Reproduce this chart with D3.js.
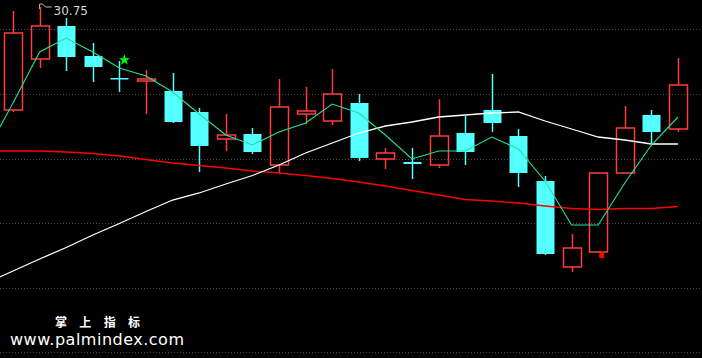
<!DOCTYPE html>
<html lang="zh">
<head>
<meta charset="UTF-8">
<title>K线</title>
<script src="https://d3js.org/d3.v7.min.js"></script>
<style>
  html, body { margin: 0; padding: 0; background: #000; }
  svg { display: block; }
</style>
</head>
<body>
<script>
// 日K数据 (开, 收, 高, 低)
var opens  = [28.69, 29.71, 30.37, 29.77, 29.33, 29.27, 29.07, 28.65, 28.11, 28.21, 27.59, 28.61, 28.47,
              28.83, 27.71, 27.65, 27.59, 28.23, 28.69, 28.17, 27.27, 25.55, 25.85, 27.43, 28.59, 28.31];
var closes = [30.23, 30.37, 29.75, 29.55, 29.33, 29.31, 28.45, 27.97, 28.19, 27.85, 28.75, 28.67, 29.01,
              27.73, 27.83, 27.61, 28.17, 27.85, 28.43, 27.43, 25.81, 25.93, 27.43, 28.33, 28.25, 29.19];
var highs  = [30.67, 30.75, 30.53, 30.03, 29.67, 29.49, 29.43, 28.73, 28.61, 28.33, 29.31, 29.15, 29.51,
              29.01, 27.93, 27.93, 28.91, 28.57, 29.41, 28.31, 27.37, 26.21, 27.43, 28.77, 28.69, 29.73];
var lows   = [28.65, 29.53, 29.47, 29.25, 29.05, 28.61, 28.43, 27.45, 27.87, 27.81, 27.43, 28.41, 28.39,
              27.67, 27.51, 27.31, 27.53, 27.59, 28.25, 27.15, 25.79, 25.45, 25.83, 27.43, 28.03, 28.25];

// 均线, 第一个值属于画面左侧之外的前一天
var ma1 = [27.85, 28.83, 29.85, 30.13, 29.85, 29.53, 29.37, 29.05, 28.61, 28.19, 27.99, 28.25, 28.43, 28.81,
           28.63, 28.19, 27.71, 27.87, 27.87, 28.15, 27.91, 27.27, 26.39, 26.39, 27.23, 27.99, 28.55];
var ma2 = [25.23, 25.47, 25.71, 25.94, 26.19, 26.42, 26.66, 26.89, 27.03, 27.21, 27.38, 27.59, 27.83, 28.03,
           28.23, 28.37, 28.45, 28.55, 28.59, 28.63, 28.65, 28.47, 28.31, 28.15, 28.09, 28.01, 28.01];
var ma3 = [27.87, 27.87, 27.87, 27.85, 27.82, 27.77, 27.70, 27.63, 27.58, 27.53, 27.47, 27.43, 27.38, 27.32,
           27.25, 27.17, 27.08, 26.99, 26.90, 26.87, 26.83, 26.77, 26.72, 26.70, 26.72, 26.72, 26.76];

var gridPrices = [30.30, 29.01, 27.72, 26.43, 25.14, 23.85];
var maxLabel = "30.75";
var starIndex = 4, starPrice = 29.69;
var squareIndex = 22, squarePrice = 25.79;

var width = 702, height = 358;

var candles = opens.map(function (o, i) {
    return { i: i, o: o, c: closes[i], h: highs[i], l: lows[i] };
});

var svg = d3.select("body").append("svg")
    .attr("width", width)
    .attr("height", height)
    .style("background", "#000");

var x = d3.scaleLinear().domain([0, 25]).range([13, 678]);
var y = d3.scaleLinear().domain([23.73, 30.89]).range([358, 0]);
var bw = 18;

svg.append("clipPath").attr("id", "clip")
    .append("rect").attr("x", 0).attr("y", 0).attr("width", width).attr("height", height);

// 网格虚线
svg.append("g").selectAll("line")
    .data(gridPrices)
    .enter().append("line")
    .attr("x1", 0).attr("x2", width)
    .attr("y1", function (d) { return Math.round(y(d)) + 0.5; })
    .attr("y2", function (d) { return Math.round(y(d)) + 0.5; })
    .attr("stroke", "#4a4a4a")
    .attr("stroke-dasharray", "1,2");

var up = "#ff3c3c", down = "#54ffff";

var gc = svg.append("g");

// 影线
gc.selectAll("line.hi")
    .data(candles)
    .enter().append("line")
    .attr("class", "hi")
    .attr("x1", function (d) { return Math.round(x(d.i)) + 0.5; })
    .attr("x2", function (d) { return Math.round(x(d.i)) + 0.5; })
    .attr("y1", function (d) { return y(d.h); })
    .attr("y2", function (d) { return y(Math.max(d.o, d.c)); })
    .attr("stroke", function (d) { return d.c > d.o ? up : down; })
    .attr("stroke-width", 1.5);

gc.selectAll("line.lo")
    .data(candles)
    .enter().append("line")
    .attr("class", "lo")
    .attr("x1", function (d) { return Math.round(x(d.i)) + 0.5; })
    .attr("x2", function (d) { return Math.round(x(d.i)) + 0.5; })
    .attr("y1", function (d) { return y(Math.min(d.o, d.c)); })
    .attr("y2", function (d) { return y(d.l); })
    .attr("stroke", function (d) { return d.c > d.o ? up : down; })
    .attr("stroke-width", 1.5);

// 实体
gc.selectAll("rect")
    .data(candles)
    .enter().append("rect")
    .attr("x", function (d) { return Math.round(x(d.i)) - bw / 2 + 0.5; })
    .attr("y", function (d) { return y(Math.max(d.o, d.c)); })
    .attr("width", bw)
    .attr("height", function (d) { return Math.max(1.5, Math.abs(y(d.o) - y(d.c))); })
    .attr("fill", function (d) { return d.c > d.o ? "none" : down; })
    .attr("stroke", function (d) { return d.c > d.o ? up : "none"; })
    .attr("stroke-width", 1.5);

// 均线
var line = d3.line()
    .x(function (d, i) { return x(i - 1); })
    .y(function (d) { return y(d); });

var gl = svg.append("g").attr("clip-path", "url(#clip)");
gl.append("path").datum(ma3)
    .attr("d", line).attr("fill", "none")
    .attr("stroke", "#ff0000").attr("stroke-width", 1.4);
gl.append("path").datum(ma2)
    .attr("d", line).attr("fill", "none")
    .attr("stroke", "#ffffff").attr("stroke-width", 1.3);
gl.append("path").datum(ma1)
    .attr("d", line).attr("fill", "none")
    .attr("stroke", "#1ee39a").attr("stroke-width", 1.1);

// 最高价标记
var hx = x(1), hy = y(30.75);
svg.append("path")
    .attr("d", "M" + hx + "," + (hy + 2) + "V" + (hy - 3) + "h3l3,3h6")
    .attr("fill", "none").attr("stroke", "#bbbbbb").attr("stroke-width", 1);
svg.append("text")
    .attr("x", hx + 14).attr("y", hy + 8)
    .attr("fill", "#d8d8d8")
    .attr("font-family", "DejaVu Sans, sans-serif")
    .attr("font-size", 12)
    .text(maxLabel);

// 信号
svg.append("path")
    .attr("d", d3.symbol().type(d3.symbolStar).size(38))
    .attr("transform", "translate(" + (x(starIndex) + 5) + "," + y(starPrice) + ")")
    .attr("fill", "#00ff00");

svg.append("rect")
    .attr("x", x(squareIndex) + 1).attr("y", y(squarePrice) - 2)
    .attr("width", 5).attr("height", 5)
    .attr("fill", "#ff0000");

// 水印
svg.append("text")
    .attr("x", 55).attr("y", 327)
    .attr("fill", "#ffffff")
    .attr("font-family", "Noto Sans CJK SC, sans-serif")
    .attr("font-weight", "bold")
    .attr("font-size", 12)
    .attr("textLength", 85)
    .text("掌 上 指 标");
svg.append("text")
    .attr("x", 10).attr("y", 345)
    .attr("fill", "#ffffff")
    .attr("font-family", "DejaVu Sans, sans-serif")
    .attr("font-size", 16)
    .attr("textLength", 174)
    .text("www.palmindex.com");
</script>
</body>
</html>
